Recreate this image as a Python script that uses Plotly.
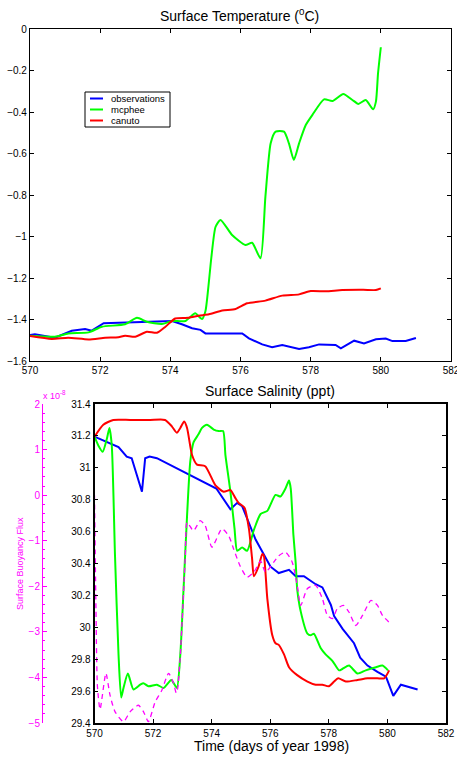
import plotly.graph_objects as go

# ---------------- Surface temperature (deg C) ----------------
obs_t_day = [570.0, 570.14, 570.71, 571.19, 571.57, 571.76, 572.1, 572.71, 573.48, 574.05,
             574.33, 574.62, 574.86, 575.0, 576.05, 576.24, 576.62, 576.9, 577.19, 577.67,
             577.95, 578.24, 578.71, 578.86, 579.24, 579.52, 579.86, 580.14, 580.33, 580.71, 581.0]
obs_temp = [-1.475, -1.471, -1.488, -1.454, -1.446, -1.454, -1.418, -1.415, -1.412, -1.407,
            -1.423, -1.442, -1.45, -1.467, -1.467, -1.491, -1.52, -1.534, -1.523, -1.542,
            -1.534, -1.52, -1.523, -1.539, -1.502, -1.515, -1.495, -1.492, -1.504, -1.504, -1.489]

mcp_t_day = [570.0, 570.71, 571.09, 571.67, 572.05, 572.71, 573.05, 573.33, 573.76, 574.05,
             574.43, 574.71, 574.9, 575.0, 575.08, 575.17, 575.29, 575.43, 575.76, 576.14,
             576.33, 576.57, 576.71, 576.86, 577.0, 577.24, 577.38, 577.52, 577.67, 577.86,
             578.05, 578.38, 578.62, 578.93, 579.19, 579.36, 579.57, 579.78, 579.86, 579.92, 580.0]
mcp_temp = [-1.478, -1.483, -1.467, -1.462, -1.435, -1.423, -1.392, -1.411, -1.422, -1.407,
            -1.407, -1.37, -1.398, -1.36, -1.25, -1.1, -0.953, -0.92, -0.993, -1.041,
            -1.03, -1.105, -0.808, -0.551, -0.495, -0.495, -0.551, -0.631, -0.551, -0.463,
            -0.414, -0.339, -0.347, -0.313, -0.342, -0.361, -0.342, -0.387, -0.35, -0.214, -0.088]

can_t_day = [570.0, 570.62, 571.09, 571.67, 572.14, 572.52, 572.71, 573.0, 573.33, 573.62,
             573.86, 574.14, 574.52, 574.81, 575.1, 575.48, 575.86, 576.19, 576.71, 577.19,
             577.67, 578.0, 578.43, 578.9, 579.5, 579.86, 580.0]
can_temp = [-1.48, -1.494, -1.488, -1.496, -1.488, -1.486, -1.478, -1.483, -1.459, -1.464,
            -1.435, -1.395, -1.392, -1.382, -1.375, -1.357, -1.349, -1.322, -1.309, -1.285,
            -1.279, -1.263, -1.264, -1.258, -1.257, -1.258, -1.25]

# ---------------- Surface salinity (ppt) ----------------
obs_s_day = [570.0, 570.82, 571.1, 571.27, 571.62, 571.73, 571.88, 572.13, 574.16, 574.64,
             574.87, 575.04, 575.5, 576.01, 576.29, 576.64, 576.87, 577.15, 577.55, 577.78,
             578.07, 578.18, 578.47, 578.86, 579.07, 579.32, 579.66, 579.95, 580.2, 580.46, 581.03]
obs_sal = [31.195, 31.13, 31.07, 31.06, 30.85, 31.06, 31.07, 31.06, 30.87, 30.74,
           30.78, 30.76, 30.55, 30.38, 30.34, 30.36, 30.32, 30.32, 30.27, 30.25,
           30.14, 30.07, 29.99, 29.9, 29.81, 29.76, 29.72, 29.69, 29.57, 29.64, 29.61]

mcp_s_day = [570.0, 570.13, 570.28, 570.42, 570.51, 570.59, 570.7, 570.82, 570.91, 570.99,
             571.14, 571.33, 571.56, 571.67, 571.84, 572.13, 572.36, 572.62, 572.81, 572.93,
             573.04, 573.16, 573.27, 573.38, 573.55, 573.67, 573.84, 574.07, 574.24, 574.39,
             574.47, 574.64, 574.78, 574.87, 575.04, 575.21, 575.44, 575.67, 575.9, 576.18,
             576.35, 576.52, 576.64, 576.7, 576.79, 576.87, 576.92, 577.04, 577.27, 577.38,
             577.49, 577.72, 577.89, 578.12, 578.35, 578.47, 578.69, 578.98, 579.26, 579.61,
             579.83, 580.02]
mcp_sal = [31.195, 31.14, 31.1, 31.18, 31.25, 31.14, 30.45, 29.83, 29.56, 29.62,
           29.71, 29.61, 29.64, 29.65, 29.63, 29.64, 29.62, 29.67, 29.62, 29.83,
           30.24, 30.7, 31.04, 31.16, 31.21, 31.25, 31.27, 31.24, 31.23, 31.23,
           31.08, 30.85, 30.62, 30.48, 30.5, 30.48, 30.61, 30.71, 30.73, 30.83,
           30.82, 30.87, 30.92, 30.87, 30.58, 30.4, 30.24, 30.1, 29.96, 29.95,
           29.96, 29.87, 29.83, 29.79, 29.73, 29.74, 29.76, 29.71, 29.73, 29.75,
           29.76, 29.73]

can_s_day = [570.0, 570.3, 570.64, 571.22, 571.9, 572.41, 572.64, 572.81, 572.93, 573.06,
             573.16, 573.33, 573.5, 573.78, 574.13, 574.41, 574.64, 574.81, 574.92, 575.12,
             575.27, 575.38, 575.44, 575.6, 575.73, 575.78, 575.9, 576.07, 576.18, 576.29,
             576.47, 576.64, 576.92, 577.27, 577.55, 577.78, 578.0, 578.18, 578.32, 578.58,
             578.98, 579.32, 579.66, 579.89, 580.06]
can_sal = [31.195, 31.27, 31.3, 31.3, 31.3, 31.3, 31.26, 31.22, 31.25, 31.29,
           31.25, 31.08, 31.02, 31.01, 30.89, 30.85, 30.86, 30.81, 30.78, 30.75,
           30.62, 30.43, 30.32, 30.38, 30.46, 30.45, 30.18, 29.95, 29.9, 29.89,
           29.83, 29.75, 29.7, 29.66, 29.64, 29.64, 29.63, 29.66, 29.68, 29.66,
           29.67, 29.68, 29.68, 29.68, 29.73]

# ---------------- Surface buoyancy flux (x 1e-8) ----------------
flux_day = [570.0, 570.05, 570.1, 570.19, 570.39, 570.53, 570.7, 570.99, 571.22, 571.5,
            571.67, 571.84, 572.07, 572.3, 572.53, 572.7, 572.79, 572.84, 572.93, 572.99,
            573.1, 573.16, 573.38, 573.61, 573.78, 574.01, 574.35, 574.58, 574.75, 574.96,
            575.21, 575.44, 575.67, 575.84, 576.12, 576.29, 576.52, 576.75, 576.92, 577.04,
            577.27, 577.55, 577.78, 577.95, 578.12, 578.29, 578.5, 578.69, 578.92, 579.15,
            579.44, 579.66, 579.83, 580.06]
flux_val = [0.0, -2.5, -4.2, -4.7, -3.91, -4.39, -4.75, -4.97, -4.75, -4.61,
            -4.75, -4.97, -4.54, -4.28, -3.91, -4.13, -4.34, -4.24, -3.51, -2.79,
            -1.33, -0.6, -0.78, -0.56, -0.67, -1.14, -0.74, -0.89, -1.18, -1.54,
            -1.8, -1.69, -1.45, -1.69, -1.47, -1.33, -1.25, -1.47, -1.98, -2.42,
            -2.05, -1.98, -2.27, -2.64, -2.71, -2.49, -2.42, -2.57, -2.86, -2.64,
            -2.31, -2.42, -2.64, -2.79]

x_ticks = [570, 572, 574, 576, 578, 580, 582]
legend_names = ["observations", "mcphee", "canuto"]

BLUE, GREEN, RED, MAGENTA = "#0000ff", "#00ff00", "#ff0000", "#ff00ff"
legend_colors = [BLUE, GREEN, RED]
FONT = "Liberation Sans, Arial, sans-serif"
W, H = 457, 757

fig = go.Figure()

# Temperature panel
fig.add_trace(go.Scatter(x=obs_t_day, y=obs_temp, mode="lines", name=legend_names[0],
                         line=dict(color=BLUE, width=2), xaxis="x", yaxis="y"))
fig.add_trace(go.Scatter(x=mcp_t_day, y=mcp_temp, mode="lines", name=legend_names[1],
                         line=dict(color=GREEN, width=2, shape="spline", smoothing=0.6),
                         xaxis="x", yaxis="y"))
fig.add_trace(go.Scatter(x=can_t_day, y=can_temp, mode="lines", name=legend_names[2],
                         line=dict(color=RED, width=2, shape="spline", smoothing=0.6),
                         xaxis="x", yaxis="y"))

# Salinity panel, with buoyancy flux on a secondary left axis
fig.add_trace(go.Scatter(x=flux_day, y=flux_val, mode="lines", name="buoyancy flux",
                         line=dict(color=MAGENTA, width=1.3, dash="5px,4px",
                                   shape="spline", smoothing=0.6),
                         xaxis="x2", yaxis="y3"))
fig.add_trace(go.Scatter(x=obs_s_day, y=obs_sal, mode="lines", name=legend_names[0],
                         line=dict(color=BLUE, width=2), xaxis="x2", yaxis="y2"))
fig.add_trace(go.Scatter(x=mcp_s_day, y=mcp_sal, mode="lines", name=legend_names[1],
                         line=dict(color=GREEN, width=2, shape="spline", smoothing=0.6),
                         xaxis="x2", yaxis="y2"))
fig.add_trace(go.Scatter(x=can_s_day, y=can_sal, mode="lines", name=legend_names[2],
                         line=dict(color=RED, width=2, shape="spline", smoothing=0.6),
                         xaxis="x2", yaxis="y2"))

axis_common = dict(showline=True, linecolor="black", linewidth=1.2, mirror="ticks",
                   ticks="inside", ticklen=4, tickcolor="black", showgrid=False,
                   zeroline=False, automargin=False, ticklabeloverflow="allow",
                   tickfont=dict(family=FONT, size=10, color="black"))
bold_axis = {**axis_common, "linewidth": 1.8}

# Boxed legend for the temperature panel (paper pixel layout)
lg_left, lg_top, lg_right, lg_bottom = 85, 92, 170, 127
row_y = [98.5, 109.5, 120.5]
shapes = [dict(type="rect", xref="paper", yref="paper",
               x0=lg_left / W, x1=lg_right / W, y0=1 - lg_bottom / H, y1=1 - lg_top / H,
               line=dict(color="black", width=1), fillcolor="white", layer="above")]
annotations = []
for name, col, ry in zip(legend_names, legend_colors, row_y):
    shapes.append(dict(type="line", xref="paper", yref="paper",
                       x0=90 / W, x1=103 / W, y0=1 - ry / H, y1=1 - ry / H,
                       line=dict(color=col, width=2), layer="above"))
    annotations.append(dict(text=name, x=109 / W, y=1 - ry / H, xref="paper", yref="paper",
                            showarrow=False, xanchor="left", yanchor="middle",
                            font=dict(family=FONT, size=9.5, color="black")))

annotations += [
    dict(text="Surface Temperature (<sup>0</sup>C)", x=240 / W, y=1 - 15 / H,
         xref="paper", yref="paper", showarrow=False, xanchor="center",
         yanchor="middle", font=dict(family=FONT, size=14, color="black")),
    dict(text="Surface Salinity (ppt)", x=270 / W, y=1 - 391 / H,
         xref="paper", yref="paper", showarrow=False, xanchor="center",
         yanchor="middle", font=dict(family=FONT, size=14, color="black")),
    dict(text="Time (days of year 1998)", x=271 / W, y=1 - 746 / H,
         xref="paper", yref="paper", showarrow=False, xanchor="center",
         yanchor="middle", font=dict(family=FONT, size=14, color="black")),
    dict(text="Surface Buoyancy Flux", x=20 / W, y=1 - 564 / H, textangle=-90,
         xref="paper", yref="paper", showarrow=False, xanchor="center",
         yanchor="middle", font=dict(family=FONT, size=9, color=MAGENTA)),
    dict(text="x 10<sup>-8</sup>", x=41 / W, y=1 - 395 / H,
         xref="paper", yref="paper", showarrow=False, xanchor="left",
         yanchor="middle", font=dict(family=FONT, size=9, color=MAGENTA)),
]

fig.update_layout(
    width=W, height=H,
    margin=dict(l=0, r=0, t=0, b=0, autoexpand=False),
    paper_bgcolor="white", plot_bgcolor="white",
    font=dict(family=FONT, color="black"),
    showlegend=False,
    xaxis=dict(domain=[30 / W, 451 / W], anchor="y", range=[570, 582],
               tickvals=x_ticks, **axis_common),
    yaxis=dict(domain=[1 - 361 / H, 1 - 29 / H], anchor="x", range=[-1.6, 0],
               dtick=0.2, tick0=0, **axis_common),
    xaxis2=dict(domain=[94.5 / W, 446 / W], anchor="y2", range=[570, 582],
                tickvals=x_ticks, **bold_axis),
    yaxis2=dict(domain=[1 - 723 / H, 1 - 404 / H], anchor="x2", range=[29.4, 31.4],
                dtick=0.2, tick0=29.4, **bold_axis),
    yaxis3=dict(overlaying="y2", anchor="free", position=42 / W, side="left",
                range=[-5, 2], dtick=1, showline=True, linecolor=MAGENTA, linewidth=1,
                ticks="inside", ticklen=4, tickcolor=MAGENTA, showgrid=False,
                zeroline=False, automargin=False,
                minor=dict(dtick=0.2, ticks="inside", ticklen=2, tickcolor=MAGENTA),
                tickfont=dict(family=FONT, size=10, color=MAGENTA)),
    shapes=shapes,
    annotations=annotations,
)

fig.write_html("out.html")
